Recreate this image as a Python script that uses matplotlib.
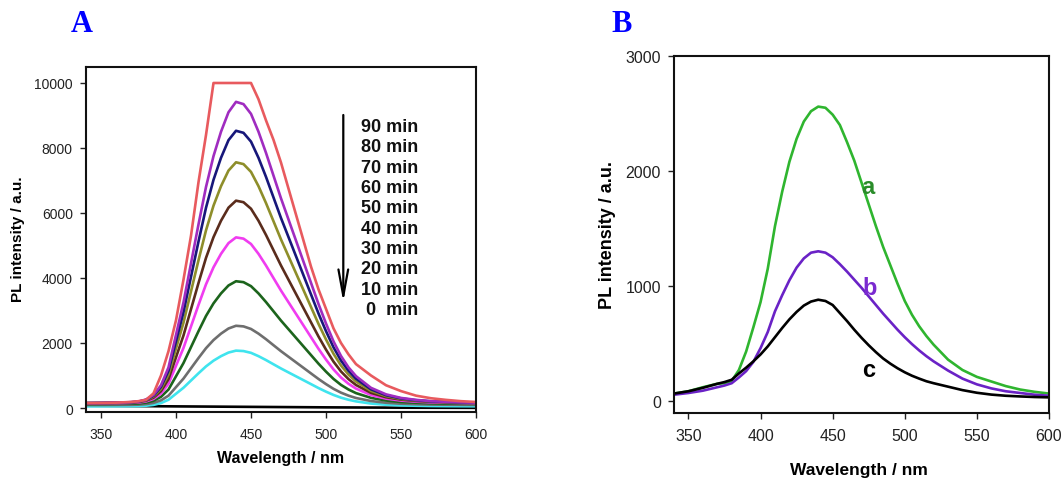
import matplotlib
matplotlib.use("Agg")
import matplotlib.pyplot as plt

plt.rcParams['font.family'] = ['Liberation Sans', 'DejaVu Sans']

# ---------------- data ----------------
wavelength = [340, 350, 360, 370, 375, 380, 385, 390, 395, 400, 405, 410, 415, 420,
              425, 430, 435, 440, 445, 450, 455, 460, 465, 470, 475, 480, 485, 490,
              495, 500, 505, 510, 515, 520, 530, 540, 550, 560, 570, 580, 590, 600]

# Panel A: PL spectra vs. time
min90 = [150, 155, 165, 185, 210, 250, 450, 1000, 1750, 2700, 3950, 5300, 6950, 8400,
         10000, 10000, 10000, 10000, 10000, 10000, 9500, 8850, 8250, 7550, 6750, 5950,
         5150, 4350, 3650, 3050, 2450, 2000, 1650, 1350, 1000, 700, 520, 380, 300, 250, 210, 185]
min80 = [150, 155, 165, 180, 200, 260, 400, 700, 1250, 2250, 3250, 4450, 5650, 6800,
         7750, 8500, 9100, 9420, 9350, 9050, 8500, 7850, 7150, 6450, 5800, 5150,
         4500, 3850, 3200, 2600, 2050, 1600, 1250, 980, 620, 420, 310, 250, 210, 190, 175, 165]
min70 = [150, 155, 164, 177, 195, 249, 376, 647, 1144, 2048, 2952, 4037, 5122, 6162,
         7020, 7698, 8241, 8530, 8467, 8196, 7698, 7111, 6478, 5845, 5258, 4670,
         4082, 3495, 2907, 2365, 1868, 1461, 1144, 900, 575, 394, 295, 240, 204, 186, 173, 164]
min60 = [150, 154, 162, 174, 190, 238, 350, 590, 1029, 1829, 2628, 3587, 4547, 5466,
         6225, 6825, 7305, 7560, 7504, 7265, 6825, 6305, 5746, 5186, 4667, 4147,
         3627, 3108, 2588, 2109, 1669, 1309, 1029, 814, 526, 366, 278, 230, 198, 182, 170, 162]
min50 = [150, 153, 160, 170, 184, 224, 318, 520, 889, 1561, 2233, 3040, 3846, 4619,
         5257, 5761, 6164, 6379, 6332, 6131, 5761, 5324, 4854, 4384, 3947, 3510,
         3073, 2636, 2200, 1796, 1427, 1124, 889, 708, 466, 331, 258, 217, 190, 177, 167, 160]
min40 = [140, 143, 148, 157, 168, 201, 278, 443, 746, 1298, 1849, 2510, 3172, 3805,
         4329, 4743, 5073, 5250, 5211, 5046, 4743, 4384, 3998, 3613, 3254, 2896,
         2538, 2179, 1821, 1490, 1187, 939, 746, 597, 399, 289, 228, 195, 173, 162, 154, 148]
min30 = [120, 122, 126, 132, 140, 165, 222, 344, 569, 976, 1384, 1874, 2363, 2832,
         3219, 3525, 3770, 3900, 3872, 3749, 3525, 3260, 2975, 2689, 2424, 2159,
         1894, 1629, 1364, 1119, 895, 711, 569, 458, 312, 230, 185, 161, 144, 136, 130, 126]
min20 = [90, 91, 94, 98, 103, 119, 156, 235, 380, 643, 906, 1222, 1538, 1840,
         2090, 2288, 2446, 2530, 2511, 2432, 2288, 2117, 1932, 1748, 1577, 1406,
         1235, 1064, 893, 735, 590, 472, 380, 308, 214, 161, 132, 116, 106, 101, 97, 94]
min10 = [50, 51, 53, 56, 59, 70, 96, 152, 254, 439, 624, 846, 1068, 1280,
         1456, 1595, 1706, 1765, 1752, 1697, 1595, 1475, 1345, 1216, 1095, 975,
         855, 735, 614, 503, 402, 318, 254, 204, 137, 100, 80, 69, 61, 57, 55, 53]
wavelength0 = [340, 400, 450, 500, 550, 600]
min0 = [70, 50, 35, 20, 10, 5]

time_labels = ["90 min", "80 min", "70 min", "60 min", "50 min",
               "40 min", "30 min", "20 min", "10 min", "0  min"]

# Panel B
curve_a = [65, 85, 120, 150, 155, 175, 270, 430, 640, 860, 1150, 1520, 1820, 2080,
           2280, 2430, 2520, 2560, 2550, 2490, 2400, 2250, 2090, 1900, 1710, 1520,
           1340, 1180, 1020, 870, 750, 650, 565, 490, 360, 270, 210, 170, 130, 100, 80, 65]
curve_b = [55, 70, 90, 120, 135, 155, 205, 260, 340, 460, 600, 780, 920, 1050,
           1160, 1240, 1290, 1302, 1290, 1250, 1190, 1125, 1055, 985, 910, 835,
           760, 690, 620, 555, 495, 440, 390, 345, 265, 195, 145, 110, 85, 70, 55, 46]
curve_c = [65, 85, 115, 150, 165, 185, 240, 290, 345, 405, 475, 555, 635, 710,
           775, 830, 865, 881, 870, 835, 765, 695, 620, 550, 485, 425,
           370, 325, 285, 250, 220, 195, 172, 155, 125, 95, 72, 56, 46, 40, 35, 32]

x_ticks = [350, 400, 450, 500, 550, 600]
yA_ticks = [0, 2000, 4000, 6000, 8000, 10000]
yB_ticks = [0, 1000, 2000, 3000]

# ---------------- figure ----------------
W, H = 1063, 481
fig = plt.figure(figsize=(W / 100, H / 100), dpi=100)

def px_axes(l, t, r, b):
    return fig.add_axes([l / W, 1 - b / H, (r - l) / W, (b - t) / H])

axA = px_axes(86, 68, 476, 413)
axB = px_axes(674, 57, 1049, 414)

lw = 1.9
A_series = [
    (wavelength0, min0, "#000000"),
    (wavelength, min10, "#3fe4ee"),
    (wavelength, min20, "#6e6e6e"),
    (wavelength, min30, "#1c641c"),
    (wavelength, min40, "#f03cf0"),
    (wavelength, min50, "#5a2c1c"),
    (wavelength, min60, "#8e8e2a"),
    (wavelength, min70, "#17177a"),
    (wavelength, min80, "#a02cc0"),
    (wavelength, min90, "#e85a5e"),
]
for xs, ys, c in A_series:
    axA.plot(xs, ys, color=c, lw=lw, solid_joinstyle='round')

axB.plot(wavelength, curve_a, color="#2fb52f", lw=lw, solid_joinstyle='round')
axB.plot(wavelength, curve_b, color="#6a22c6", lw=lw, solid_joinstyle='round')
axB.plot(wavelength, curve_c, color="#000000", lw=lw, solid_joinstyle='round')

axA.set_xlim(340, 600)
axA.set_ylim(-123, 10492)
axB.set_xlim(340, 600)
axB.set_ylim(-104, 3000)

for ax, yt, fs in ((axA, yA_ticks, 10), (axB, yB_ticks, 11.5)):
    ax.set_xticks(x_ticks)
    ax.set_yticks(yt)
    ax.set_xticklabels([str(v) for v in x_ticks])
    ax.set_yticklabels([str(v) for v in yt])
    ax.tick_params(direction='out', length=4.5, width=1.0, labelsize=fs,
                   colors='#222222', top=False, right=False)
    ax.tick_params(axis='x', pad=6)
    ax.tick_params(axis='y', pad=5)
    for s in ax.spines.values():
        s.set_linewidth(1.5)
        s.set_color('#111111')

# axis labels
fig.text(281 / W, 1 - 458 / H, "Wavelength / nm", ha='center', va='center',
         fontsize=11.5, fontweight='bold')
fig.text(18 / W, 1 - 239 / H, "PL intensity / a.u.", ha='center', va='center',
         rotation=90, fontsize=11, fontweight='bold')
fig.text(859 / W, 1 - 471 / H, "Wavelength / nm", ha='center', va='center',
         fontsize=12.5, fontweight='bold')
fig.text(608 / W, 1 - 235 / H, "PL intensity / a.u.", ha='center', va='center',
         rotation=90, fontsize=13, fontweight='bold')

# panel letters
fig.text(82 / W, 1 - 25 / H, "A", ha='center', va='center', fontsize=22,
         fontweight='bold', family='Liberation Serif', color='#0000ff')
fig.text(622 / W, 1 - 24 / H, "B", ha='center', va='center', fontsize=22,
         fontweight='bold', family='Liberation Serif', color='#0000ff')

# time legend in panel A
y_top = (413 - 127.3) / 345
y_bot = (413 - 310.7) / 345
step = (y_top - y_bot) / (len(time_labels) - 1)
for i, lab in enumerate(time_labels):
    axA.text((418 - 86) / 390, y_top - i * step, lab, transform=axA.transAxes,
             ha='right', va='center', fontsize=13, fontweight='bold', color='#111111')

axA.annotate('', xy=((343.3 - 86) / 390, (413 - 303) / 345),
             xytext=((343.3 - 86) / 390, (413 - 116) / 345),
             xycoords='axes fraction', textcoords='axes fraction',
             arrowprops=dict(arrowstyle='->,head_length=1.9,head_width=0.35',
                             lw=1.6, color='black', mutation_scale=10,
                             shrinkA=0, shrinkB=0))

# curve labels in panel B
axB.text(474.7, 1861, "a", ha='center', va='center', fontsize=17,
         fontweight='bold', color='#2a8c2a')
axB.text(476, 983, "b", ha='center', va='center', fontsize=17,
         fontweight='bold', color='#7a2ad0')
axB.text(474.7, 278, "c", ha='center', va='center', fontsize=17,
         fontweight='bold', color='#000000')

fig.savefig("out.png", dpi=100)
